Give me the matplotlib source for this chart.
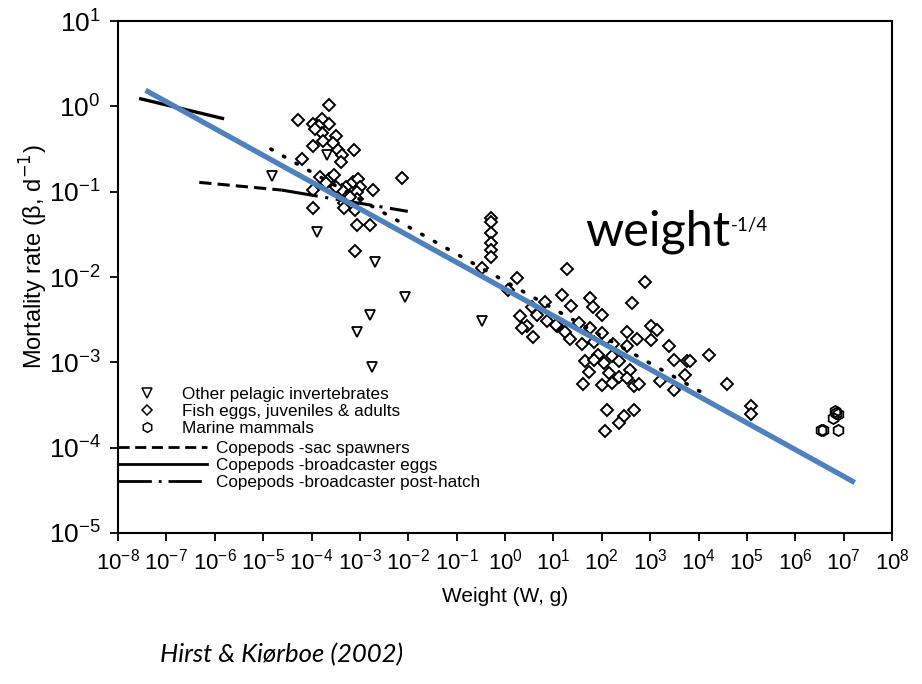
import numpy as np
import matplotlib
matplotlib.use("Agg")
from matplotlib import pyplot as plt
from matplotlib.lines import Line2D

plt.rcParams['font.family'] = ['Liberation Sans', 'DejaVu Sans']
plt.rcParams['axes.unicode_minus'] = False

# log10 values (weight in g, mortality in d^-1)
inv_logw = [-4.81, -3.88, -2.69, -2.07, -2.80, -3.07, -2.76, -0.48, -3.67]
inv_logm = [-0.82, -1.47, -1.82, -2.24, -2.44, -2.64, -3.06, -2.52, -0.57]

fish_logw = [-3.63, -4.28, -3.97, -3.78, -3.63, -3.85, -3.78, -3.92, -3.50, -3.97,
             -3.77, -3.56, -3.45, -3.38, -3.13, -3.40, -4.19, -3.83, -3.63, -3.54,
             -3.28, -3.14, -3.04, -3.00, -3.07, -2.73, -2.14, -3.97, -3.38, -3.07,
             -3.32, -3.97, -3.32, -3.11, -3.07, -2.80, -3.70, -3.49, -3.21, -3.11,
             -0.28, -0.28, -0.28, -0.28, -0.28, -0.28, -0.48, 0.24, 0.07, 0.31,
             0.45, 0.35, 0.57, 0.66, 0.83, 0.86, 1.07, 0.55, 1.29, 2.89,
             1.17, 1.36, 1.76, 1.82, 2.00, 2.63, 1.06, 1.24, 1.52, 1.35,
             1.59, 1.76, 2.00, 1.83, 2.24, 2.52, 2.73, 3.01, 3.14, 3.01,
             3.38, 2.52, 1.93, 2.21, 1.66, 1.83, 2.35, 2.04, 1.73, 2.59,
             2.14, 2.35, 2.52, 1.62, 2.00, 2.21, 2.66, 2.76, 3.21, 3.49,
             3.77, 3.73, 3.49, 2.11, 2.66, 2.45, 2.35, 2.07, 4.21, 4.59,
             5.09, 5.09, 3.83]
fish_logm = [0.02, -0.16, -0.20, -0.15, -0.20, -0.23, -0.31, -0.27, -0.35, -0.46,
             -0.41, -0.43, -0.51, -0.57, -0.51, -0.65, -0.62, -0.83, -0.85, -0.80,
             -0.94, -0.88, -0.85, -0.94, -1.00, -0.98, -0.84, -0.98, -0.98, -1.09,
             -1.13, -1.19, -1.19, -1.21, -1.39, -1.39, -0.90, -0.94, -1.06, -1.69,
             -1.31, -1.36, -1.48, -1.60, -1.68, -1.76, -1.89, -2.01, -2.15, -2.46,
             -2.58, -2.60, -2.70, -2.44, -2.29, -2.52, -2.58, -2.35, -1.91, -2.06,
             -2.21, -2.34, -2.25, -2.35, -2.45, -2.31, -2.56, -2.64, -2.54, -2.73,
             -2.79, -2.60, -2.66, -2.76, -2.79, -2.65, -2.73, -2.57, -2.62, -2.74,
             -2.81, -2.81, -2.91, -2.93, -2.99, -2.97, -2.99, -3.01, -3.11, -3.09,
             -3.13, -3.17, -3.18, -3.26, -3.27, -3.24, -3.28, -3.26, -3.22, -2.97,
             -2.99, -3.15, -3.32, -3.56, -3.56, -3.63, -3.71, -3.81, -2.91, -3.25,
             -3.51, -3.61, -2.99]

mam_logw = [6.53, 6.57, 6.88, 6.78, 6.84, 6.88, 6.82]
mam_logm = [-3.79, -3.79, -3.79, -3.65, -3.59, -3.61, -3.57]

# copepod fits and overall lines (end points, log10)
sac_logw, sac_logm = [-6.32, -4.62], [-0.89, -0.98]
egg_logw, egg_logm = [-7.53, -5.84], [0.09, -0.14]
post_logw, post_logm = [-4.62, -2.01], [-0.98, -1.23]
all_logw, all_logm = [-4.84, 4.15], [-0.50, -3.38]
fit_logw, fit_logm = [-7.43, 7.23], [0.19, -4.41]

xticks = 10.0 ** np.arange(-8, 9)
yticks = 10.0 ** np.arange(-5, 2)

fig = plt.figure(figsize=(9.22, 6.84), dpi=100)
ax = fig.add_axes([0.128, 0.221, 0.8395, 0.748])

p = lambda v: 10.0 ** np.array(v)

ax.plot(p(inv_logw), p(inv_logm), 'v', ms=7.5, mfc='white', mec='black', mew=1.3, ls='none')
ax.plot(p(fish_logw), p(fish_logm), 'D', ms=6.2, mfc='white', mec='black', mew=1.4, ls='none')
ax.plot(p(mam_logw), p(mam_logm), 'h', ms=8, mfc='none', mec='black', mew=1.3, ls='none')

ax.plot(p(sac_logw), p(sac_logm), color='black', lw=2.2, ls=(0, (4, 2)))
ax.plot(p(egg_logw), p(egg_logm), color='black', lw=2.4)
ax.plot(p(post_logw), p(post_logm), color='black', lw=2.2, ls=(0, (12, 2.5, 1, 2.5)))
ax.plot(p(all_logw), p(all_logm), color='black', lw=2.6, ls=(0, (0.4, 3.6)),
        dash_capstyle='round')
ax.plot(p(fit_logw), p(fit_logm), color='#4f81bd', lw=3.8, solid_capstyle='butt')

ax.set_xscale('log')
ax.set_yscale('log')
ax.set_xlim(1e-8, 1e8)
ax.set_ylim(1e-5, 1e1)
ax.set_xticks(xticks)
ax.set_yticks(yticks)
ax.minorticks_off()
ax.tick_params(axis='both', direction='out', length=5.5, width=1.3)
ax.tick_params(axis='y', labelsize=19, pad=7)
ax.tick_params(axis='x', labelsize=16, pad=6)
for s in ax.spines.values():
    s.set_linewidth(1.5)

ax.set_xlabel('Weight (W, g)', fontsize=15)
ax.set_ylabel(u'Mortality rate (\u03b2, d$^{-1}$)', fontsize=17)
ax.xaxis.set_label_coords(0.5, -0.105)
ax.yaxis.set_label_coords(-0.088, 0.54)

mk = dict(ls='none', mfc='white', mec='black', mew=1.1)
h1 = [Line2D([], [], marker='v', ms=6.5, **mk),
      Line2D([], [], marker='D', ms=5.5, **mk),
      Line2D([], [], marker='h', ms=7, **mk)]
leg1 = ax.legend(h1, ['Other pelagic invertebrates', 'Fish eggs, juveniles & adults', 'Marine mammals'],
                 loc='upper left', bbox_to_anchor=(0.027, 0.285), frameon=False, fontsize=12.3,
                 handlelength=1.0, handletextpad=1.5, labelspacing=0.12, borderpad=0, borderaxespad=0)
ax.add_artist(leg1)
h2 = [Line2D([], [], color='black', lw=2.0, ls=(0, (4, 2))),
      Line2D([], [], color='black', lw=2.0),
      Line2D([], [], color='black', lw=2.0, ls=(0, (12, 2.5, 1, 2.5)))]
ax.legend(h2, ['Copepods -sac spawners', 'Copepods -broadcaster eggs', 'Copepods -broadcaster post-hatch'],
          loc='upper left', bbox_to_anchor=(0.0, 0.18), frameon=False, fontsize=12.3,
          handlelength=5.2, handletextpad=0.55, labelspacing=0.12, borderpad=0, borderaxespad=0)

t = fig.text(585 / 922, 1 - 245 / 684, 'weight', fontsize=35, family='Lato', va='baseline')
fig.canvas.draw()
bb = t.get_window_extent()
fig.text(bb.x1 / 922 + 0.001, 1 - 231 / 684, '-1/4', fontsize=13.5, family='Lato', va='baseline')

fig.text(160 / 922, 1 - 655 / 684, u'Hirst & Ki\u00f8rboe (2002)', fontsize=18.5, family='Lato',
         style='italic', va='center')

fig.savefig('out.png', dpi=100)
